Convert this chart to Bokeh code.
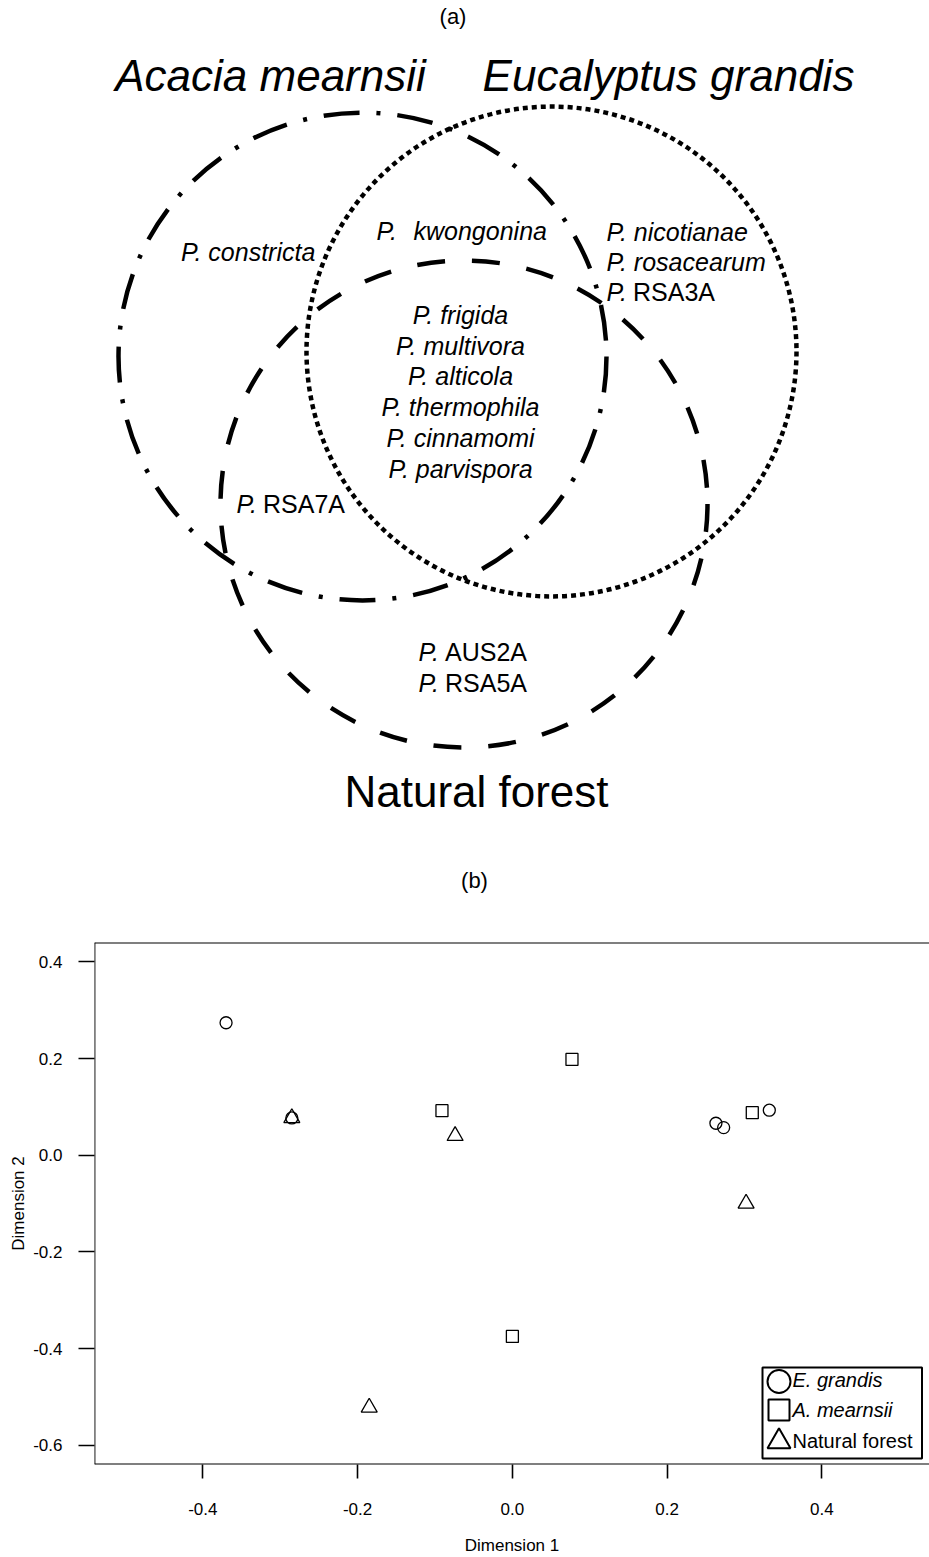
from bokeh.plotting import figure
from bokeh.layouts import column
from bokeh.models import Range1d, FixedTicker, PrintfTickFormatter, Span
from bokeh.core.properties import value
from bokeh.embed import file_html
from bokeh.resources import INLINE

# ---------------- data: (a) Venn diagram ----------------
set_names = ["Acacia mearnsii", "Eucalyptus grandis", "Natural forest"]
only_acacia = ["P. constricta"]
acacia_eucalyptus = ["P.  kwongonina"]
only_eucalyptus = ["P. nicotianae", "P. rosacearum", "P. RSA3A"]
all_three = ["P. frigida", "P. multivora", "P. alticola",
             "P. thermophila", "P. cinnamomi", "P. parvispora"]
acacia_forest = ["P. RSA7A"]
only_forest = ["P. AUS2A", "P. RSA5A"]

# ---------------- data: (b) MDS ordination ----------------
eg_x = [-0.370, -0.285, 0.263, 0.273, 0.332]
eg_y = [0.274, 0.077, 0.066, 0.057, 0.093]
am_x = [-0.091, 0.077, 0.310, 0.000]
am_y = [0.092, 0.198, 0.088, -0.375]
nf_x = [-0.285, -0.074, 0.302, -0.185]
nf_y = [0.077, 0.040, -0.100, -0.522]
x_ticks = [-0.4, -0.2, 0.0, 0.2, 0.4]
y_ticks = [-0.6, -0.4, -0.2, 0.0, 0.2, 0.4]
legend_labels = ["E. grandis", "A. mearnsii", "Natural forest"]
legend_markers = ["circle", "square", "triangle"]

FONT = "Liberation Sans"

# ---------------- figure (a) ----------------
W = 929
H1 = 908
BL = 94
p1 = figure(width=W, height=H1, x_range=Range1d(BL, W), y_range=Range1d(H1, 0),
            x_axis_type=None, y_axis_type=None, toolbar_location=None,
            output_backend="svg", min_border=0, min_border_left=BL,
            outline_line_color=None)
p1.background_fill_color = "white"
p1.border_fill_color = "white"

# circle layout (diagram geometry, pixels)
circ_x = [362, 551, 463.5]
circ_y = [356, 351, 503.5]
circ_r = [244, 245, 243.5]
circ_dash = ["36 17 4 17", "5 4", "28 27"]
for cx, cy, r, d in zip(circ_x, circ_y, circ_r, circ_dash):
    p1.circle(x=[cx], y=[cy], radius=r, fill_color=None, line_color="black",
              line_width=4.5, line_dash=d)


def put(p, x, y, s, style="normal", size=25, align="left"):
    p.text(x=[x], y=[y], text=[s], text_font=value(FONT), text_font_style=style,
           text_font_size=f"{size}px", text_align=align, text_baseline="middle",
           text_color="black")


def species_text(p, label, x, y, align="left", size=25):
    parts = label.split(" ", 1)
    rest = parts[1] if len(parts) > 1 else ""
    epithet = rest.strip()
    if epithet and epithet[0].isupper():
        # "P." in italics, isolate code upright
        put(p, x, y, parts[0], "italic", size)
        put(p, x + 26.5, y, epithet, "normal", size)
    elif rest.startswith(" "):
        # wider gap after the genus initial, kept as two pieces
        put(p, x, y, parts[0], "italic", size)
        put(p, x + 37, y, epithet, "italic", size)
    else:
        put(p, x, y, label, "italic", size, align)


# panel labels and set names
put(p1, 452.5, 16, "(a)", size=22, align="center")
put(p1, 474, 880, "(b)", size=22, align="center")
set_x = [270, 668, 476]
set_y = [75, 75, 791]
set_style = ["italic", "italic", "normal"]
for name, sx, sy, st in zip(set_names, set_x, set_y, set_style):
    put(p1, sx, sy, name, st, 44, "center")

# region texts
species_text(p1, only_acacia[0], 180.5, 251.3)
species_text(p1, acacia_eucalyptus[0], 376, 230.3)
for i, s in enumerate(only_eucalyptus):
    species_text(p1, s, 606, 231.3 + 30 * i)
for i, s in enumerate(all_three):
    species_text(p1, s, 460, 314.3 + 30.8 * i, align="center")
species_text(p1, acacia_forest[0], 236, 503.3)
for i, s in enumerate(only_forest):
    species_text(p1, s, 418, 651.3 + 31 * i)

# ---------------- figure (b) ----------------
H2 = 1557 - H1
BR, BT, BB = 0, 34, 93
XR = (-0.54, 0.539)
YR = (-0.64, 0.44)
p2 = figure(width=W, height=H2, x_range=Range1d(*XR), y_range=Range1d(*YR),
            toolbar_location=None, output_backend="svg",
            min_border_left=BL, min_border_right=BR, min_border_top=BT, min_border_bottom=BB)
p2.background_fill_color = "white"
p2.border_fill_color = "white"
p2.grid.visible = False
p2.outline_line_color = None
# plot box: the right edge falls just outside the picture
for loc, dim in ((YR[1], "width"), (YR[0], "width"), (XR[0], "height")):
    p2.add_layout(Span(location=loc, dimension=dim, line_color="black", line_width=1.8))

for ax, ticks, lab in ((p2.xaxis, x_ticks, "Dimension 1"), (p2.yaxis, y_ticks, "Dimension 2")):
    ax.ticker = FixedTicker(ticks=ticks)
    ax.formatter = PrintfTickFormatter(format="%.1f")
    ax.axis_line_color = None
    ax.minor_tick_line_color = None
    ax.major_tick_in = 0
    ax.major_tick_line_color = "black"
    ax.major_tick_line_width = 1.6
    ax.major_label_text_font = FONT
    ax.major_label_text_font_size = "17px"
    ax.major_label_text_color = "black"
    ax.axis_label = lab
    ax.axis_label_text_font = FONT
    ax.axis_label_text_font_size = "17px"
    ax.axis_label_text_font_style = "normal"
    ax.axis_label_text_color = "black"

p2.xaxis.major_tick_out = 14
p2.xaxis.major_label_standoff = 24
p2.xaxis.axis_label_standoff = 18
p2.yaxis.major_tick_out = 16
p2.yaxis.major_label_standoff = 16
p2.yaxis.axis_label_standoff = 2

p2.scatter(eg_x, eg_y, marker="circle", size=12, fill_color=None,
           line_color="black", line_width=1.3)
p2.scatter(am_x, am_y, marker="square", size=12, fill_color=None,
           line_color="black", line_width=1.3)
p2.scatter(nf_x, nf_y, marker="triangle", size=16, fill_color=None,
           line_color="black", line_width=1.3)

# legend in the lower-right corner (pixel offsets from the frame -> data units)
FW = W - BL - BR
FH = H2 - BT - BB


def fx(dx_px):
    """offset in px from the frame's left edge -> data x"""
    return XR[0] + dx_px * (XR[1] - XR[0]) / FW


def fy(dy_px):
    """offset in px from the frame's top edge -> data y"""
    return YR[1] - dy_px * (YR[1] - YR[0]) / FH


box_l, box_r, box_t, box_b = 668, 827.5, 425, 516
p2.quad(left=[fx(box_l)], right=[fx(box_r)], top=[fy(box_t)], bottom=[fy(box_b)],
        fill_color="white", line_color="black", line_width=2)
mk_dy = [439, 467.5, 499]
mk_size = [23, 21, 23]
for m, dy, sz in zip(legend_markers, mk_dy, mk_size):
    p2.scatter([fx(684.5)], [fy(dy)], marker=m, size=sz, fill_color=None,
               line_color="black", line_width=2)
lab_dy = [437, 467, 498]
lab_style = ["italic", "italic", "normal"]
for lab, dy, st in zip(legend_labels, lab_dy, lab_style):
    put(p2, fx(698), fy(dy), lab, st, 20)

layout = column(p1, p2, spacing=0)
open("out.html", "w").write(file_html(layout, INLINE))
